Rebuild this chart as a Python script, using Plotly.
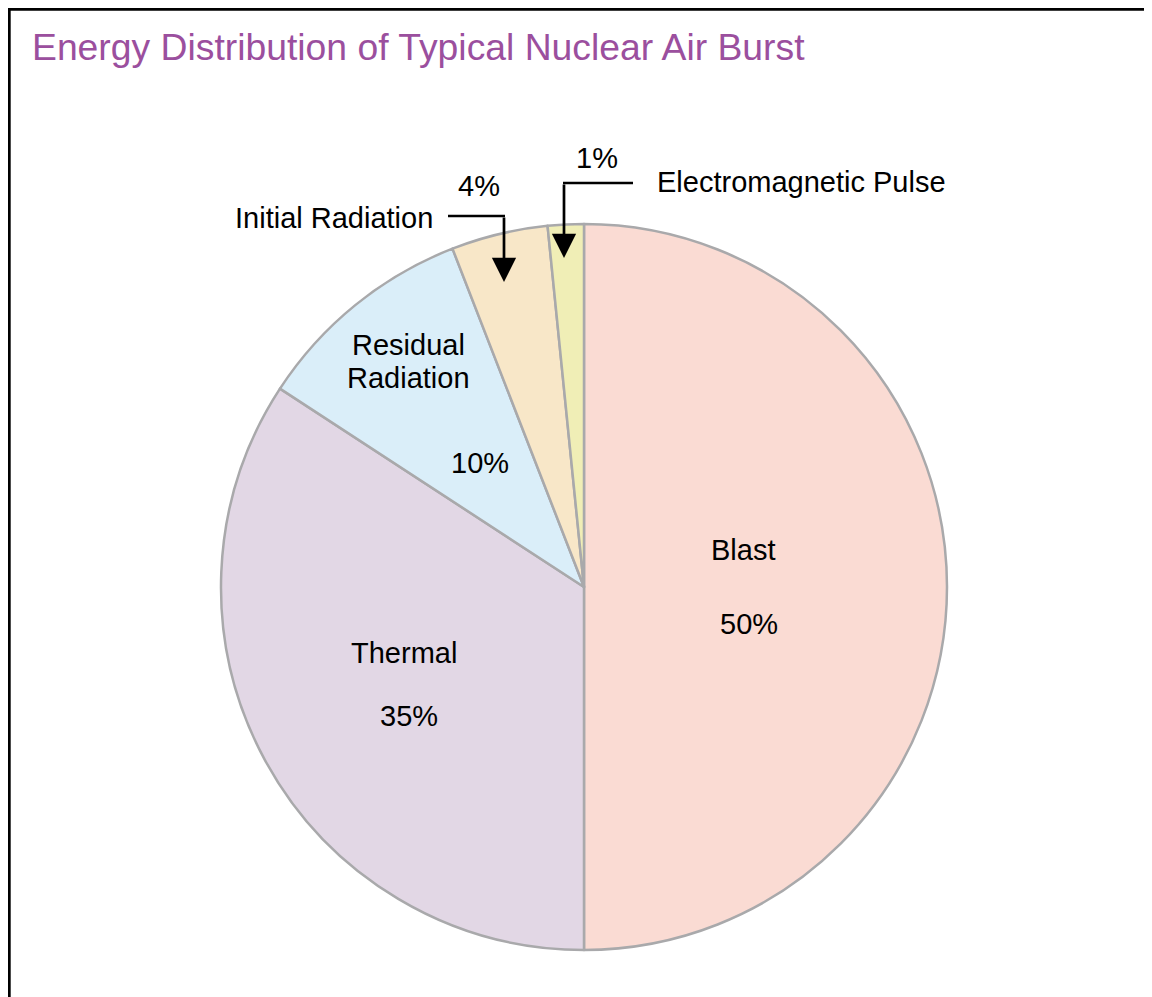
import plotly.graph_objects as go

W, H = 1152, 997
OFF = 8  # page body margin offset

# Data
categories = ["Blast", "Thermal", "Residual Radiation", "Initial Radiation", "Electromagnetic Pulse"]
slice_shares = [50, 34.2, 9.9, 4.3, 1.6]          # angular shares as drawn
percent_labels = ["50%", "35%", "10%", "4%", "1%"]  # printed labels
colors = ["#FADBD3", "#E2D7E5", "#DAEEF9", "#F8E7C8", "#F0EEB6"]

TITLE = "Energy Distribution of Typical Nuclear Air Burst"
FONT = "Liberation Sans, Arial, sans-serif"

def px(x):
    return (x - OFF) / W

def py(y):
    return 1 - (y - OFF) / H

cx, cy, r = 584, 587, 363

fig = go.Figure(go.Pie(
    labels=categories,
    values=slice_shares,
    sort=False,
    direction="clockwise",
    rotation=0,
    textinfo="none",
    hoverinfo="skip",
    marker=dict(colors=colors, line=dict(color="#A9A9AB", width=2.5)),
    domain=dict(x=[px(cx - r), px(cx + r)], y=[py(cy + r), py(cy - r)]),
    showlegend=False,
))

annotations = []

def label(text, x, y, size=29, color="black", xanchor="center"):
    annotations.append(dict(
        text=text, x=px(x), y=py(y), xref="paper", yref="paper",
        xanchor=xanchor, yanchor="middle", showarrow=False,
        font=dict(family=FONT, size=size, color=color),
    ))

# Title
annotations.append(dict(
    text=TITLE, x=px(30), y=py(47), xref="paper", yref="paper",
    xanchor="left", yanchor="middle", showarrow=False,
    font=dict(family=FONT, size=37.3, color="#9B4F9E"),
))

# Slice labels
label(categories[0], 743, 550)
label(percent_labels[0], 749, 624)
label(categories[1], 404, 653)
label(percent_labels[1], 409, 716)
label("Residual", 408, 345)
label("Radiation", 408, 378)
label(percent_labels[2], 480, 463)
label(categories[3], 334, 218)
label(percent_labels[3], 479, 186)
label(categories[4], 801, 182)
label(percent_labels[4], 597, 158)

# Arrow heads (vertical segments)
for (x, y0, y1) in [(504, 216, 282), (564, 183, 258)]:
    annotations.append(dict(
        text="", x=px(x), y=py(y1), ax=0, ay=-(y1 - y0),
        xref="paper", yref="paper", axref="pixel", ayref="pixel",
        showarrow=True, arrowhead=2, arrowsize=1.8, arrowwidth=2.7,
        arrowcolor="black", standoff=0,
    ))

shapes = [
    # horizontal leader segments
    dict(type="line", xref="paper", yref="paper", x0=px(448), y0=py(216), x1=px(505), y1=py(216),
         line=dict(color="black", width=2.7)),
    dict(type="line", xref="paper", yref="paper", x0=px(563), y0=py(183), x1=px(633), y1=py(183),
         line=dict(color="black", width=2.7)),
    # frame (left and top edges)
    dict(type="line", xref="paper", yref="paper", x0=1.3 / W, y0=1 - 1.3 / H, x1=1.3 / W, y1=-0.01,
         line=dict(color="black", width=2.8)),
    dict(type="line", xref="paper", yref="paper", x0=0, y0=1 - 1.3 / H, x1=1.01, y1=1 - 1.3 / H,
         line=dict(color="black", width=2.8)),
]

fig.update_layout(
    width=W, height=H,
    margin=dict(l=0, r=0, t=0, b=0),
    paper_bgcolor="white",
    plot_bgcolor="white",
    annotations=annotations,
    shapes=shapes,
    font=dict(family=FONT),
)

fig.write_html("out.html")
